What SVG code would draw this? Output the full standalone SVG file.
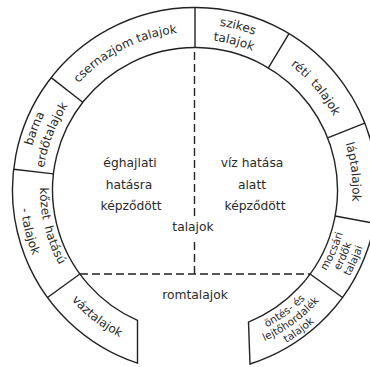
<svg xmlns="http://www.w3.org/2000/svg" width="370" height="367" viewBox="0 0 370 367">
<style>
.ln{fill:none;stroke:#222;stroke-width:1.4;stroke-linejoin:miter}
.dash{fill:none;stroke:#222;stroke-width:1.4;stroke-dasharray:8 4}
text{font-family:"DejaVu Sans","Liberation Sans",sans-serif;fill:#2a2a2a}
.in{font-size:12.3px;text-anchor:middle}
.rl{font-size:12px}
.sm{font-size:10.5px}
.tp{text-anchor:middle}
</style>
<defs>
<path id="p-cser" d="M49.6,128.3 A158,158 0 0 1 230.5,36.1"/>
<path id="p-szik1" d="M151.2,29.9 A166,166 0 0 1 311.8,72.0"/>
<path id="p-szik2" d="M155.3,44.8 A150.5,150.5 0 0 1 300.9,83.0"/>
<path id="p-reti" d="M221.5,35.2 A157,157 0 0 1 352,189.2"/>
<path id="p-lap" d="M303.4,75.7 A157.5,157.5 0 0 1 326.3,276.9"/>
<path id="p-moc1" d="M262.5,328.4 A154,154 0 0 0 343.0,147.6"/>
<path id="p-moc2" d="M267.6,338.8 A165.5,165.5 0 0 0 354.1,144.4"/>
<path id="p-moc3" d="M272.6,349.1 A177,177 0 0 0 365.2,141.2"/>
<path id="p-ont1" d="M185.5,344.7 A155,155 0 0 0 345.7,226.2"/>
<path id="p-ont2" d="M184.8,356.2 A166.5,166.5 0 0 0 356.9,228.9"/>
<path id="p-ont3" d="M184.1,367.7 A178,178 0 0 0 368.1,231.5"/>
<path id="p-vaz" d="M33.3,225.3 A165.5,165.5 0 0 0 201.6,355.4"/>
<path id="p-koz1" d="M55.7,122.0 A155,155 0 0 0 103.9,315.4"/>
<path id="p-koz2" d="M37.7,113.3 A175,175 0 0 0 92.1,331.6"/>
<path id="p-bar1" d="M35.7,244.9 A168.5,168.5 0 0 1 113.3,42.6"/>
<path id="p-bar2" d="M50.8,239.7 A152.5,152.5 0 0 1 121.1,56.6"/>
</defs>

<g id="ring">
<path class="ln" d="M137.5,363.2 A182.5,182.5 0 1 1 250,364.0 L248.5,322.1 A142.5,142.5 0 1 0 137.5,320.4 Z"/>
<path class="ln" d="M195,47.5 L195,7.5 M268.4,67.9 L289.0,33.6 M327.6,137.8 L364.8,123.1 M335.1,216.0 L374.4,223.3 M310.1,274.0 L342.5,297.5 M79.9,274.0 L47.5,297.5 M53.4,173.9 L13.7,169.3 M82.7,102.3 L51.2,77.6"/>
</g>

<g id="connectors">
<path class="dash" d="M194.5,52 L194.5,216"/>
<path class="dash" d="M194.5,242 L194.5,274"/>
<path class="dash" d="M80,274 L310,274"/>
</g>

<g id="csernazjom"><text class="rl"><textPath href="#p-cser" startOffset="50%" class="tp">csernazjom talajok</textPath></text></g>
<g id="szikes"><text class="rl"><textPath href="#p-szik1" startOffset="50%" class="tp">szikes</textPath></text><text class="rl"><textPath href="#p-szik2" startOffset="50%" class="tp">talajok</textPath></text></g>
<g id="reti"><text class="rl" word-spacing="3"><textPath href="#p-reti" startOffset="50%" class="tp">réti talajok</textPath></text></g>
<g id="lap"><text class="rl"><textPath href="#p-lap" startOffset="50%" class="tp">láptalajok</textPath></text></g>
<g id="mocsari"><text class="sm"><textPath href="#p-moc1" startOffset="50%" class="tp">mocsári</textPath></text><text class="sm"><textPath href="#p-moc2" startOffset="50%" class="tp">erdők</textPath></text><text class="sm"><textPath href="#p-moc3" startOffset="50%" class="tp">talajai</textPath></text></g>
<g id="ontes"><text class="sm"><textPath href="#p-ont1" startOffset="50%" class="tp">öntés- és</textPath></text><text class="sm"><textPath href="#p-ont2" startOffset="50%" class="tp">lejtőhordalék</textPath></text><text class="sm"><textPath href="#p-ont3" startOffset="50%" class="tp">talajok</textPath></text></g>
<g id="vaz"><text class="rl"><textPath href="#p-vaz" startOffset="50%" class="tp">váztalajok</textPath></text></g>
<g id="kozet"><text class="rl" word-spacing="3"><textPath href="#p-koz1" startOffset="50%" class="tp">kőzet hatású</textPath></text><text class="rl"><textPath href="#p-koz2" startOffset="50%" class="tp">- talajok</textPath></text></g>
<g id="barna"><text class="rl"><textPath href="#p-bar1" startOffset="50%" class="tp">barna</textPath></text><text class="rl"><textPath href="#p-bar2" startOffset="50%" class="tp">erdőtalajok</textPath></text></g>

<g id="eghajlati">
<text class="in" x="130" y="167">éghajlati</text>
<text class="in" x="129" y="189">hatásra</text>
<text class="in" x="131" y="210">képződött</text>
</g>
<g id="viz">
<text class="in" x="252" y="167">víz hatása</text>
<text class="in" x="252" y="189">alatt</text>
<text class="in" x="255" y="210">képződött</text>
</g>
<g id="talajok"><text class="in" x="193" y="231">talajok</text></g>
<g id="romtalajok"><text class="in" x="195" y="299">romtalajok</text></g>
</svg>
